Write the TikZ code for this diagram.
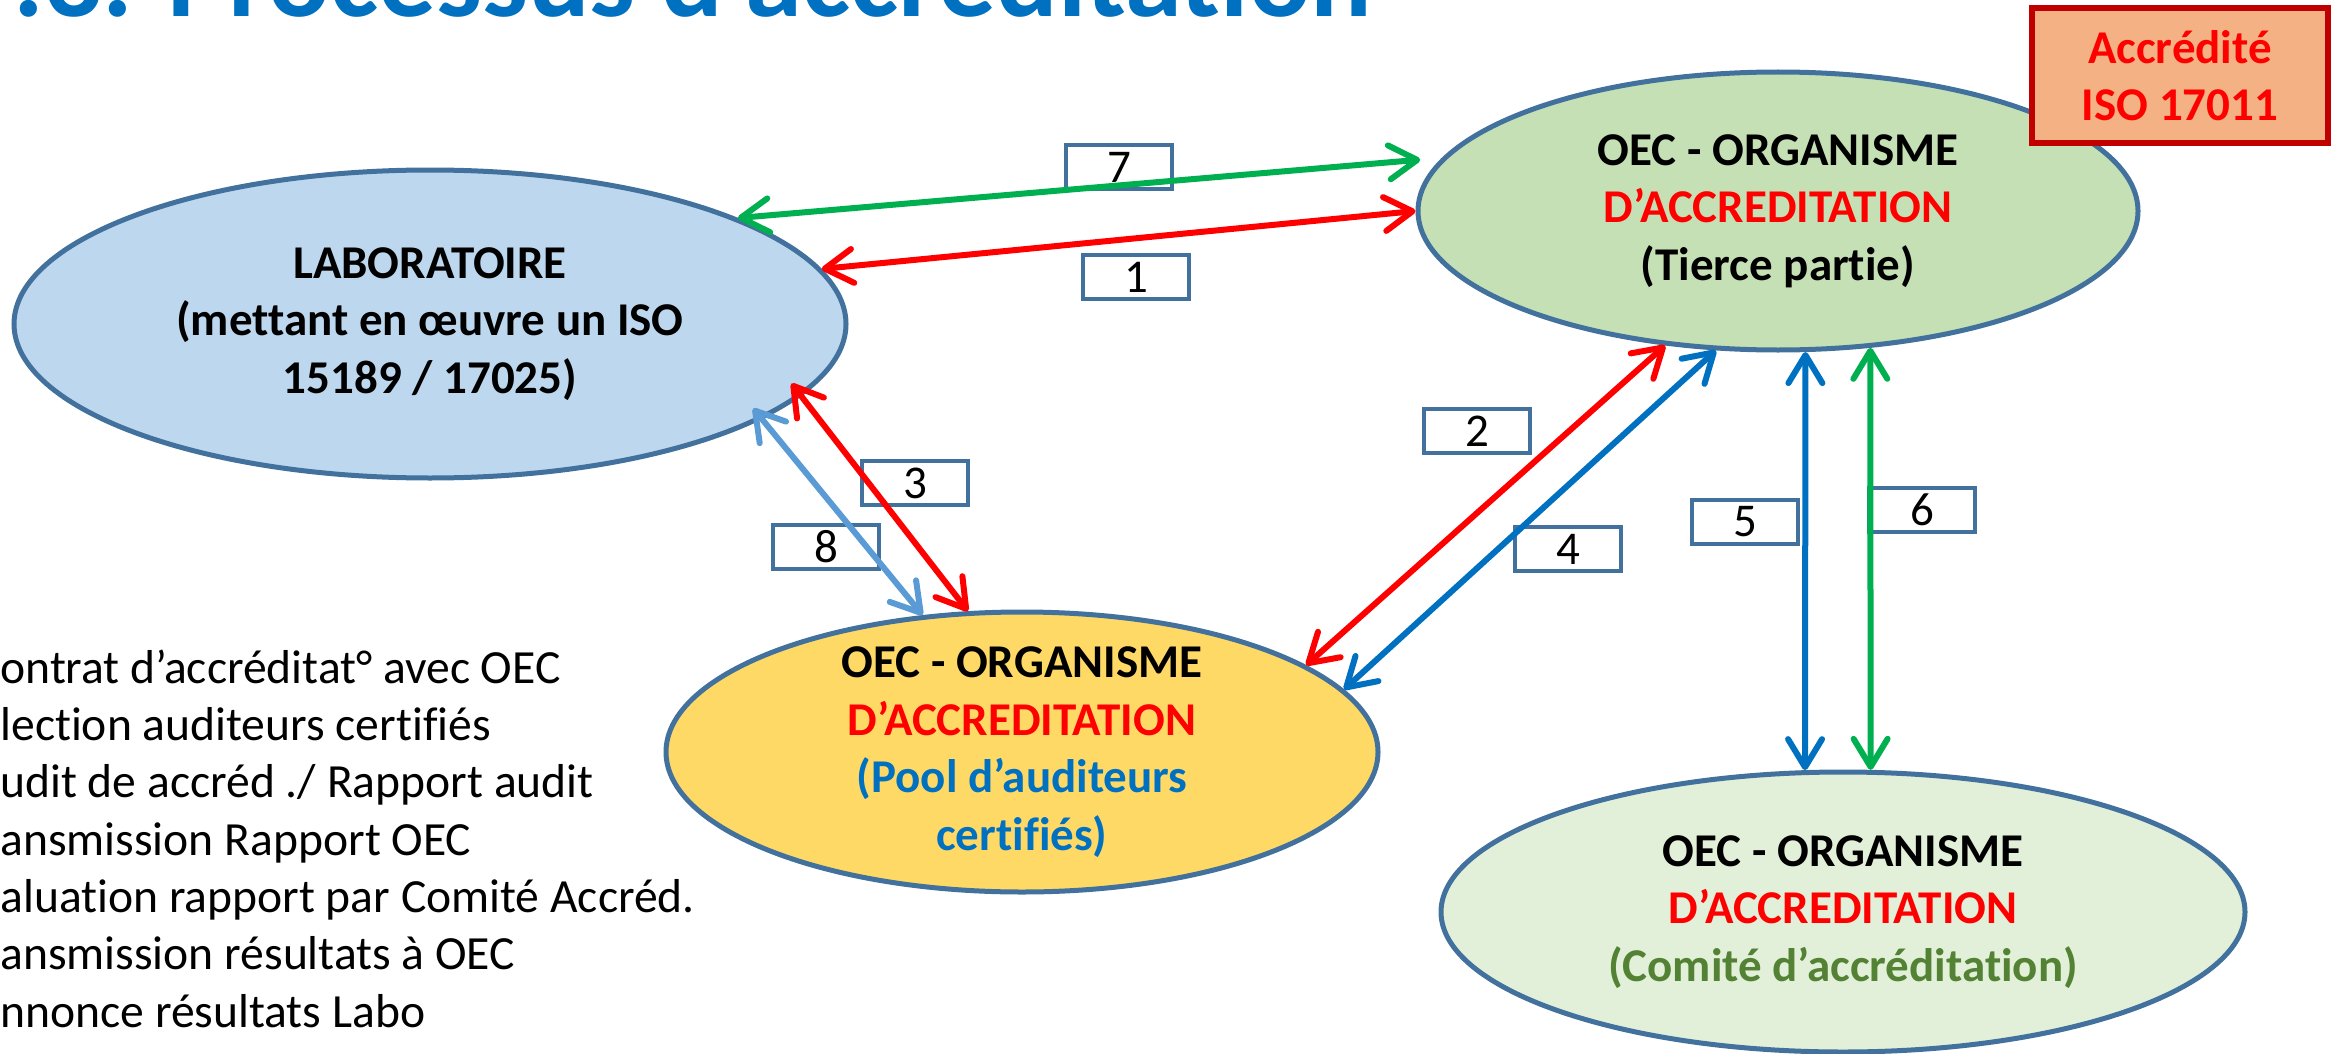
\documentclass[tikz,border=0pt]{standalone}
\usepackage{fontspec}
\setmainfont{Carlito}[Ligatures=NoCommon]
\usetikzlibrary{arrows.meta,shapes.geometric}

\definecolor{titleblue}{HTML}{0070C0}
\definecolor{edgeblue}{HTML}{41719C}
\definecolor{labfill}{HTML}{BDD7EE}
\definecolor{oecfill}{HTML}{C5E0B4}
\definecolor{poolfill}{HTML}{FFD966}
\definecolor{comfill}{HTML}{E2F0D9}
\definecolor{accfill}{HTML}{F4B183}
\definecolor{accred}{HTML}{C00000}
\definecolor{arrred}{HTML}{FF0000}
\definecolor{arrgreen}{HTML}{00B050}
\definecolor{arrblue}{HTML}{0070C0}
\definecolor{arrlight}{HTML}{5B9BD5}
\definecolor{comgreen}{HTML}{548235}

\newcommand\ovaltext{\fontsize{23.5}{28.75}\selectfont}

\tikzset{
  oval/.style={ellipse, draw=edgeblue, line width=2.5pt, inner sep=0pt},
  ovallabel/.style={align=center, font=\ovaltext\bfseries},
  numbox/.style={draw=edgeblue, line width=2pt, fill=white, minimum width=53pt,
    minimum height=22pt, inner sep=0pt, font=\ovaltext},
  flow/.style={line width=3pt, <->, >={Straight Barb[length=14pt,width=17pt,round]}}
}

\begin{document}
\begin{tikzpicture}[x=0.5pt,y=-0.5pt]
  \useasboundingbox (0,0) rectangle (2334,1054);

  \node[anchor=base west, inner sep=0pt, text=titleblue,
    font=\fontsize{57.5}{60}\selectfont\bfseries] (title) at (13,17) {.3. Processus d’accréditation};

  \node[oval, fill=labfill, minimum width=416pt, minimum height=154pt] (lab) at (430,324) {};
  \node[oval, fill=oecfill, minimum width=360pt, minimum height=139pt] (oec) at (1778,211) {};
  \node[oval, fill=poolfill, minimum width=356pt, minimum height=140pt] (pool) at (1022,752) {};
  \node[oval, fill=comfill, minimum width=402pt, minimum height=140pt] (comite) at (1843,912) {};

  \node[ovallabel] (labtxt) at (lab) {LABORATOIRE\\(mettant en œuvre un ISO\\15189 / 17025)};
  \node[ovallabel] (oectxt) at (oec) {OEC - ORGANISME\\\textcolor{arrred}{D’ACCREDITATION}\\(Tierce partie)};
  \node[ovallabel] (pooltxt) at (pool) {OEC - ORGANISME\\\textcolor{arrred}{D’ACCREDITATION}\\
    \textcolor{titleblue}{(Pool d’auditeurs}\\\textcolor{titleblue}{certifiés)}};
  \node[ovallabel] (comtxt) at (comite) {OEC - ORGANISME\\\textcolor{arrred}{D’ACCREDITATION}\\
    \textcolor{comgreen}{(Comité d’accréditation)}};

  \node[draw=accred, line width=3pt, fill=accfill, minimum width=148pt, minimum height=67.5pt,
    inner sep=0pt, align=center, text=arrred, font=\ovaltext\bfseries] (accr) at (2180,75.5) {Accrédité\\ISO 17011};

  \foreach \n/\x/\y in {1/1136/277, 2/1477/431, 3/915/483, 4/1568/549,
                        5/1745/522, 6/1922/510, 7/1119/167, 8/826/547}
    \node[numbox] (box\n) at (\x,\y) {\n};

  \draw[flow, arrgreen, shorten >=11pt] (lab.19) -- (oec.171.9);
  \draw[flow, arrred] (lab.8.7) -- (oec.180);
  \draw[flow, arrred, shorten <=-8pt] (lab.-11.9) -- (pool.111.2);
  \draw[flow, arrlight, shorten <=-7pt] (lab.-16.4) -- (pool.126.1);
  \draw[flow, arrred] (pool.17.8) -- (oec.230.8);
  \draw[flow, arrblue] (pool.11.4) -- (oec.246.95);
  \draw[flow, arrblue] (oec.-79) -- (comite.105.3);
  \draw[flow, arrgreen] (oec.-56.2) -- (comite.79.8);

  \foreach \ligne [count=\i] in {ontrat d’accréditat° avec OEC, lection auditeurs certifiés,
      udit de accréd ./ Rapport audit, ansmission Rapport OEC,
      aluation rapport par Comité Accréd., ansmission résultats à OEC, nnonce résultats Labo}
    \node[anchor=base west, inner sep=0pt, font=\fontsize{23.8}{28.7}\selectfont] (item\i)
      at (0,{683+57.35*(\i-1)}) {\ligne};
\end{tikzpicture}
\end{document}
